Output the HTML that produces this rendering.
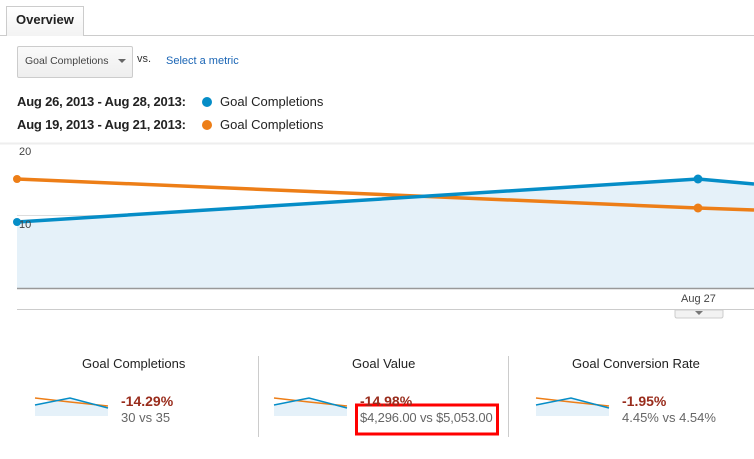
<!DOCTYPE html>
<html><head><style>
body{margin:0;width:754px;height:459px;background:#fff;font-family:"Liberation Sans",Arial,sans-serif;position:relative;overflow:hidden}
.a{position:absolute}
</style></head><body>
<div class="a" style="left:0;top:35px;width:754px;height:1px;background:#ccc"></div>
<div class="a" style="left:6px;top:6px;width:78px;height:30px;border:1px solid #ccc;border-bottom:none;background:linear-gradient(#fff,#f3f3f3);box-sizing:border-box"></div>
<div class="a" style="left:16px;top:12px;font-size:13px;font-weight:bold;color:#222">Overview</div>
<div class="a" style="left:17px;top:46px;width:116px;height:32px;border:1px solid #ccc;border-radius:2px;background:linear-gradient(#fafafa,#eee);box-sizing:border-box"></div>
<div class="a" style="left:25px;top:55px;font-size:10.5px;color:#444">Goal Completions</div>
<div class="a" style="left:118px;top:59px;width:0;height:0;border-left:4px solid transparent;border-right:4px solid transparent;border-top:4px solid #666"></div>
<div class="a" style="left:137px;top:53px;font-size:11px;color:#333">vs.</div>
<div class="a" style="left:166px;top:55px;font-size:11px;color:#1a65b5">Select a metric</div>
<div class="a" style="left:17px;top:94px;font-size:13px;font-weight:bold;color:#222;letter-spacing:-0.2px">Aug 26, 2013 - Aug 28, 2013:</div>
<div class="a" style="left:17px;top:117px;font-size:13px;font-weight:bold;color:#222;letter-spacing:-0.2px">Aug 19, 2013 - Aug 21, 2013:</div>
<div class="a" style="left:202px;top:97px;width:10px;height:10px;border-radius:50%;background:#058dc7"></div>
<div class="a" style="left:202px;top:120px;width:10px;height:10px;border-radius:50%;background:#ed7e17"></div>
<div class="a" style="left:220px;top:94px;font-size:13px;color:#222">Goal Completions</div>
<div class="a" style="left:220px;top:117px;font-size:13px;color:#222">Goal Completions</div>
<svg class="a" style="left:0;top:0" width="754" height="459">
<line x1="0" y1="143.5" x2="754" y2="143.5" stroke="#eee" stroke-width="2"/>
<line x1="17" y1="215.5" x2="754" y2="215.5" stroke="#ddd"/>
<polygon points="17,222 698,179 754,184 754,288 17,288" fill="#e5f1f9"/>
<line x1="17" y1="288.5" x2="754" y2="288.5" stroke="#999" stroke-width="1.5"/>
<line x1="17" y1="309.5" x2="754" y2="309.5" stroke="#ccc"/>
<polyline points="17,179 698,208 754,210" fill="none" stroke="#ed7e17" stroke-width="3.5"/>
<polyline points="17,222 698,179 754,184" fill="none" stroke="#058dc7" stroke-width="3.5"/>
<circle cx="698" cy="179" r="4.5" fill="#058dc7"/><circle cx="698" cy="208" r="4.5" fill="#ed7e17"/>
<circle cx="17" cy="179" r="4" fill="#ed7e17"/><circle cx="17" cy="222" r="4" fill="#058dc7"/>
<text x="19" y="155" font-size="11" fill="#444" font-family="Liberation Sans">20</text>
<text x="19" y="228" font-size="11" fill="#444" font-family="Liberation Sans">10</text>
<text x="681" y="302" font-size="11" fill="#444" font-family="Liberation Sans">Aug 27</text>
<path d="M675,310 h48 v6 q0,2 -2,2 h-44 q-2,0 -2,-2z" fill="#f2f2f2" stroke="#ccc"/>
<path d="M695,311 h8 l-4,4z" fill="#777"/>
<line x1="258.5" y1="356" x2="258.5" y2="437" stroke="#ccc"/>
<line x1="508.5" y1="356" x2="508.5" y2="437" stroke="#ccc"/>
<g id="sp">
<polygon points="35,405 70,398 108,408 108,416 35,416" fill="#e5f1f9"/>
<polyline points="35,398 70,402 108,406" fill="none" stroke="#ed7e17" stroke-width="1.5"/>
<polyline points="35,405 70,398 108,408" fill="none" stroke="#058dc7" stroke-width="1.5"/>
</g>
<use href="#sp" x="239"/><use href="#sp" x="501"/>
<rect x="356.5" y="405" width="141" height="29" fill="none" stroke="#f00" stroke-width="3"/>
</svg>
<div class="a" style="left:82px;top:356px;font-size:13px;color:#222">Goal Completions</div>
<div class="a" style="left:352px;top:356px;font-size:13px;color:#222">Goal Value</div>
<div class="a" style="left:572px;top:356px;font-size:13px;color:#222">Goal Conversion Rate</div>
<div class="a" style="left:121px;top:393px;font-size:14px;font-weight:bold;color:#992c1c">-14.29%</div>
<div class="a" style="left:121px;top:410px;font-size:13px;color:#666">30 vs 35</div>
<div class="a" style="left:360px;top:393px;font-size:14px;font-weight:bold;color:#992c1c">-14.98%</div>
<div class="a" style="left:360px;top:410px;font-size:13px;color:#666;letter-spacing:-0.15px">$4,296.00 vs $5,053.00</div>
<div class="a" style="left:622px;top:393px;font-size:14px;font-weight:bold;color:#992c1c">-1.95%</div>
<div class="a" style="left:622px;top:410px;font-size:13px;color:#666">4.45% vs 4.54%</div>
</body></html>
